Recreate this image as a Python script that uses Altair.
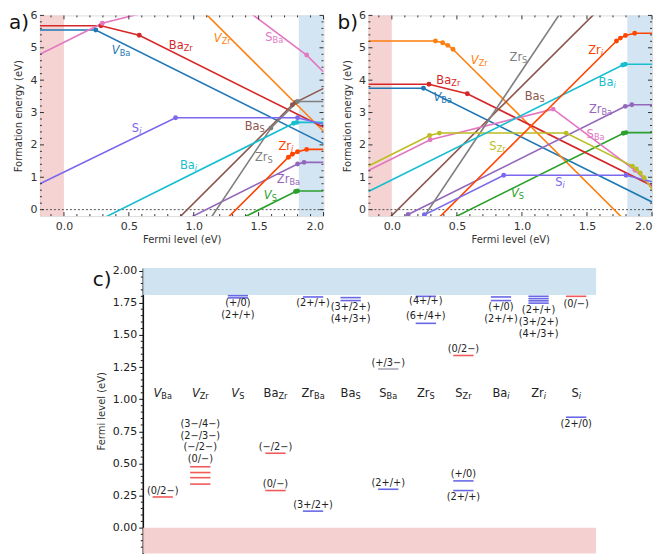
import altair as alt
import pandas as pd

# ---------------- data ----------------
SERIES = ["VBa", "VZr", "VS", "BaZr", "ZrBa", "BaS", "SBa", "ZrS", "SZr", "Bai", "Zri", "Si"]
COLORS = ["#1f77b4", "#ff7f0e", "#2ca02c", "#d62728", "#9467bd", "#8c564b",
          "#e377c2", "#7f7f7f", "#bcbd22", "#17becf", "#ff4500", "#7b68ee"]
# main text, subscript, main italic, subscript italic
PIECES = {
    "VBa": ("V", "Ba", True, False), "VZr": ("V", "Zr", True, False), "VS": ("V", "S", True, False),
    "BaZr": ("Ba", "Zr", False, False), "ZrBa": ("Zr", "Ba", False, False), "BaS": ("Ba", "S", False, False),
    "SBa": ("S", "Ba", False, False), "ZrS": ("Zr", "S", False, False), "SZr": ("S", "Zr", False, False),
    "Bai": ("Ba", "i", False, True), "Zri": ("Zr", "i", False, True), "Si": ("S", "i", False, True),
}

# panel a: vertices (Fermi level, formation energy)
A_LINES = {
    "VBa": ([-0.185, 0.245, 2.0], [5.55, 5.55, 2.04]),
    "VZr": ([1.0, 2.0], [6.42, 2.42]),
    "VS": ([1.3, 1.785, 1.80, 2.0], [-0.41, 0.56, 0.575, 0.575]),
    "BaZr": ([-0.185, 0.285, 0.58, 2.0], [5.68, 5.68, 5.385, 2.545]),
    "ZrBa": ([0.9, 1.80, 1.85, 2.0], [-0.39, 1.41, 1.46, 1.46]),
    "BaS": ([0.8, 1.76, 1.785, 2.0], [-0.6, 3.24, 3.315, 3.745]),
    "SBa": ([-0.185, 0.295, 1.23, 1.87, 2.0], [4.80, 5.76, 6.695, 4.775, 4.255]),
    "ZrS": ([1.1, 1.595, 1.80, 2.0], [-0.45, 2.52, 3.34, 3.34]),
    "Bai": ([0.3, 1.77, 1.795, 2.0], [-0.27, 2.67, 2.695, 2.695]),
    "Zri": ([1.2, 1.73, 1.76, 1.80, 1.87, 2.0], [-0.5, 1.62, 1.71, 1.79, 1.86, 1.86]),
    "Si": ([-0.185, 0.86, 1.80, 2.0], [0.80, 2.84, 2.84, 2.64]),
}
A_LABELS = {
    "VBa": (0.44, 4.91), "BaZr": (0.90, 5.06), "VZr": (1.22, 5.28), "SBa": (1.62, 5.30),
    "Si": (0.56, 2.49), "BaS": (1.47, 2.55), "Zri": (1.71, 1.94), "ZrS": (1.54, 1.60),
    "Bai": (0.96, 1.34), "ZrBa": (1.73, 0.92), "VS": (1.59, 0.41),
}

# panel b
B_LINES = {
    "VBa": ([-0.18, 0.243, 2.0], [3.75, 3.75, 0.236]),
    "VZr": ([-0.18, 0.335, 0.39, 0.43, 0.47, 2.0], [5.21, 5.21, 5.155, 5.075, 4.955, -1.165]),
    "VS": ([0.4, 1.78, 1.80, 2.0], [-0.40, 2.36, 2.38, 2.38]),
    "BaZr": ([-0.18, 0.285, 0.58, 2.0], [3.875, 3.875, 3.58, 0.74]),
    "ZrBa": ([-0.05, 0.125, 1.795, 1.845, 2.0], [-0.675, -0.15, 3.19, 3.24, 3.24]),
    "BaS": ([-0.1, 1.7], [-0.58, 6.62]),
    "SBa": ([-0.18, 0.295, 1.24, 1.87, 2.0], [1.21, 2.16, 3.105, 1.215, 0.695]),
    "ZrS": ([0.2, 1.4], [-0.5, 6.7]),
    "SZr": ([-0.18, 0.29, 0.365, 1.34, 1.85, 1.88, 1.91, 1.94, 2.0],
            [1.35, 2.29, 2.365, 2.365, 1.345, 1.255, 1.135, 0.985, 0.625]),
    "Bai": ([-0.18, 1.775, 1.795, 2.0], [0.56, 4.47, 4.49, 4.49]),
    "Zri": ([0.3, 1.727, 1.757, 1.796, 1.867, 2.0], [-0.498, 5.21, 5.30, 5.378, 5.449, 5.449]),
    "Si": ([0.15, 0.25, 0.86, 1.80, 2.0], [-0.56, -0.16, 1.06, 1.06, 0.86]),
}
B_LABELS = {
    "VZr": (0.672, 4.60), "ZrS": (0.973, 4.68), "Zri": (1.566, 4.89), "BaZr": (0.434, 3.97),
    "BaS": (1.098, 3.49), "Bai": (1.655, 3.92), "VBa": (0.391, 3.44), "ZrBa": (1.604, 3.07),
    "SZr": (0.812, 1.92), "SBa": (1.566, 2.32), "Si": (1.292, 0.82), "VS": (0.966, 0.48),
}

X_TICKS = [0.0, 0.5, 1.0, 1.5, 2.0]
X_MINOR = [-0.1, 0.1, 0.2, 0.3, 0.4, 0.6, 0.7, 0.8, 0.9, 1.1, 1.2, 1.3, 1.4, 1.6, 1.7, 1.8, 1.9]
Y_TICKS = [0, 1, 2, 3, 4, 5, 6]
Y_MINOR = [0.2, 0.4, 0.6, 0.8, 1.2, 1.4, 1.6, 1.8, 2.2, 2.4, 2.6, 2.8, 3.2, 3.4, 3.6, 3.8,
           4.2, 4.4, 4.6, 4.8, 5.2, 5.4, 5.6, 5.8]

VBM = 0.0
CBM = 1.81

# panel c: transition levels (column index, Fermi level, kind)
C_LEVELS = [
    (0, 0.24, "r"),
    (1, 0.34, "r"), (1, 0.39, "r"), (1, 0.43, "r"), (1, 0.475, "r"),
    (2, 1.805, "b"), (2, 1.788, "b"),
    (3, 0.58, "r"), (3, 0.29, "r"),
    (4, 0.13, "b"), (4, 1.795, "b"),
    (5, 1.79, "b"), (5, 1.767, "b"),
    (6, 1.235, "g"), (6, 0.30, "b"),
    (7, 1.80, "b"), (7, 1.59, "b"),
    (8, 1.34, "r"), (8, 0.365, "b"), (8, 0.29, "b"),
    (9, 1.795, "b"), (9, 1.767, "b"),
    (10, 1.80, "b"), (10, 1.782, "b"), (10, 1.765, "b"), (10, 1.747, "b"),
    (11, 1.80, "r"), (11, 0.86, "b"),
]
C_TEXTS = [
    (0, 0.29, "(0/2−)"),
    (1, 0.535, "(0/−)"), (1, 0.625, "(−/2−)"), (1, 0.715, "(2−/3−)"), (1, 0.805, "(3−/4−)"),
    (2, 1.745, "(+/0)"), (2, 1.655, "(2+/+)"),
    (3, 0.63, "(−/2−)"), (3, 0.34, "(0/−)"),
    (4, 0.18, "(3+/2+)"), (4, 1.75, "(2+/+)"),
    (5, 1.715, "(3+/2+)"), (5, 1.625, "(4+/3+)"),
    (6, 1.28, "(+/3−)"), (6, 0.35, "(2+/+)"),
    (7, 1.76, "(4+/+)"), (7, 1.65, "(6+/4+)"),
    (8, 1.39, "(0/2−)"), (8, 0.42, "(+/0)"), (8, 0.24, "(2+/+)"),
    (9, 1.715, "(+/0)"), (9, 1.625, "(2+/+)"),
    (10, 1.695, "(2+/+)"), (10, 1.60, "(3+/2+)"), (10, 1.505, "(4+/3+)"),
    (11, 1.74, "(0/−)"), (11, 0.81, "(2+/0)"),
]
C_KINDS = ["r", "b", "g"]
C_KIND_COLORS = ["#f05a5a", "#6868e6", "#a8a8b4"]
C_YTICKS = [0.0, 0.25, 0.5, 0.75, 1.0, 1.25, 1.5, 1.75, 2.0]
C_YMINOR = [round(0.05 * k, 2) for k in range(-3, 41) if k % 5 != 0]
C_NAME_Y = 1.04

# ---------------- style ----------------
FONT = "DejaVu Sans"
CHAR_W = {"V": 0.684, "B": 0.686, "a": 0.613, "Z": 0.685, "r": 0.411, "S": 0.635, "i": 0.278}
MAIN_SIZE = 11.5
SUB_SIZE = 8.2
AW, AH = 284, 201
BW, BH = 284, 201
CW, CH = 454, 286
XDOM_A = [-0.185, 2.0]
XDOM_B = [-0.18, 2.0]
YDOM = [-0.2, 6.0]
CXDOM = [-0.53, 11.53]
CYDOM = [-0.2, 2.02]
C_SHIFT = 51

cscale = alt.Scale(domain=SERIES, range=COLORS)


def tw(s, size):
    return sum(CHAR_W.get(ch, 0.6) for ch in s) * size


def label_df(centers, ppu):
    rows = []
    for name, (cx, cy) in centers.items():
        m, s, mi, si = PIECES[name]
        join = cx + (tw(m, MAIN_SIZE) - tw(s, SUB_SIZE)) / 2.0 / ppu
        rows.append(dict(series=name, x=join, y=cy, main=m, sub=s, mi=mi, si=si))
    return pd.DataFrame(rows)


def label_layers(df, X, Y, color):
    layers = []
    for it in (True, False):
        d = df[df.mi == it]
        if len(d):
            layers.append(alt.Chart(d).mark_text(
                align="right", baseline="middle", fontSize=MAIN_SIZE, font=FONT,
                fontStyle="italic" if it else "normal").encode(x=X, y=Y, text="main:N", color=color))
        d = df[df.si == it]
        if len(d):
            layers.append(alt.Chart(d).mark_text(
                align="left", baseline="middle", dy=3, fontSize=SUB_SIZE, font=FONT,
                fontStyle="italic" if it else "normal").encode(x=X, y=Y, text="sub:N", color=color))
    return layers


def top_panel(lines, labels, tag, W, H, xdom):
    ppu = W / (xdom[1] - xdom[0])
    X = alt.X("x:Q", scale=alt.Scale(domain=xdom, nice=False, zero=False),
              axis=alt.Axis(values=X_TICKS, format=".1f", title="Fermi level (eV)",
                            ticks=False, domain=False, grid=False, labelPadding=4,
                            labelFontSize=11, titleFontSize=10, titlePadding=3, titleFontWeight="normal",
                            labelColor="#333", titleColor="#333", labelFont=FONT, titleFont=FONT))
    Y = alt.Y("y:Q", scale=alt.Scale(domain=YDOM, nice=False, zero=False),
              axis=alt.Axis(values=Y_TICKS, format="d", title="Formation energy (eV)",
                            ticks=False, domain=False, grid=False, labelPadding=3,
                            labelFontSize=11, titleFontSize=10, titlePadding=6, titleFontWeight="normal",
                            labelColor="#333", titleColor="#333", labelFont=FONT, titleFont=FONT))
    line_rows, dot_rows = [], []
    for name, (xs, ys) in lines.items():
        for i, (xv, yv) in enumerate(zip(xs, ys)):
            line_rows.append(dict(series=name, x=xv, y=yv, order=i))
            if 0 < i < len(xs) - 1:
                dot_rows.append(dict(series=name, x=xv, y=yv))
    ldf = pd.DataFrame(line_rows)
    ddf = pd.DataFrame(dot_rows)
    color = alt.Color("series:N", scale=cscale, legend=None)

    red = alt.Chart(pd.DataFrame({"x": [xdom[0]], "x2": [VBM], "y": [YDOM[0]], "y2": [YDOM[1]]})).mark_rect(
        color="#f2c4c4", opacity=0.75).encode(x=X, x2="x2:Q", y=Y, y2="y2:Q")
    blue = alt.Chart(pd.DataFrame({"x": [CBM], "x2": [xdom[1]], "y": [YDOM[0]], "y2": [YDOM[1]]})).mark_rect(
        color="#c4dcee", opacity=0.75).encode(x=X, x2="x2:Q", y=Y, y2="y2:Q")
    zero = alt.Chart(pd.DataFrame({"y": [0.0]})).mark_rule(
        color="#555", strokeDash=[2, 2], strokeWidth=1).encode(y=Y)
    lns = alt.Chart(ldf).mark_line(clip=True, strokeWidth=1.6).encode(
        x=X, y=Y, color=color, detail="series:N", order="order:Q")
    dts = alt.Chart(ddf).mark_circle(clip=True, size=24, opacity=1).encode(x=X, y=Y, color=color)

    tk = "#333"
    ticks = [
        alt.Chart(pd.DataFrame({"x": X_TICKS})).mark_rule(color=tk).encode(x=X, y=alt.value(H), y2=alt.value(H - 4)),
        alt.Chart(pd.DataFrame({"x": X_TICKS})).mark_rule(color=tk).encode(x=X, y=alt.value(0), y2=alt.value(4)),
        alt.Chart(pd.DataFrame({"x": X_MINOR})).mark_rule(color=tk).encode(x=X, y=alt.value(H), y2=alt.value(H - 2)),
        alt.Chart(pd.DataFrame({"x": X_MINOR})).mark_rule(color=tk).encode(x=X, y=alt.value(0), y2=alt.value(2)),
        alt.Chart(pd.DataFrame({"y": Y_TICKS})).mark_rule(color=tk).encode(y=Y, x=alt.value(0), x2=alt.value(4)),
        alt.Chart(pd.DataFrame({"y": Y_TICKS})).mark_rule(color=tk).encode(y=Y, x=alt.value(W - 4), x2=alt.value(W)),
        alt.Chart(pd.DataFrame({"y": Y_MINOR})).mark_rule(color=tk).encode(y=Y, x=alt.value(0), x2=alt.value(2)),
        alt.Chart(pd.DataFrame({"y": Y_MINOR})).mark_rule(color=tk).encode(y=Y, x=alt.value(W - 2), x2=alt.value(W)),
    ]
    lab = label_layers(label_df(labels, ppu), X, Y, color)
    tagc = alt.Chart(pd.DataFrame({"t": [tag]})).mark_text(
        align="left", baseline="middle", fontSize=20, font=FONT, color="#111").encode(
        text="t:N", x=alt.value(-31), y=alt.value(8))
    return alt.layer(red, blue, zero, lns, dts, *ticks, *lab, tagc).properties(width=W, height=H)


panel_a = top_panel(A_LINES, A_LABELS, "a)", AW, AH, XDOM_A)
panel_b = top_panel(B_LINES, B_LABELS, "b)", BW, BH, XDOM_B)

# ---------------- panel c ----------------
cppu = CW / (CXDOM[1] - CXDOM[0])
CX = alt.X("x:Q", scale=alt.Scale(domain=CXDOM, nice=False, zero=False), axis=None)
CY = alt.Y("y:Q", scale=alt.Scale(domain=CYDOM, nice=False, zero=False),
           axis=alt.Axis(values=C_YTICKS, format=".2f", title="Fermi level (eV)", grid=False,
                         domain=True, domainColor="#111", domainWidth=1.6, ticks=True, tickSize=4,
                         tickColor="#111", tickWidth=1, labelFontSize=11, titleFontSize=10,
                         titleFontWeight="normal",
                         labelPadding=2, titlePadding=6, labelColor="#222", titleColor="#333",
                         labelFont=FONT, titleFont=FONT))
HALF = 0.27
lev = pd.DataFrame([dict(x=c - HALF, x2=c + HALF, y=y, kind=k) for c, y, k in C_LEVELS])
txt = pd.DataFrame([dict(x=c, y=y, t=t) for c, y, t in C_TEXTS])
names = {SERIES[i]: (i, C_NAME_Y) for i in range(len(SERIES))}

c_red = alt.Chart(pd.DataFrame({"y": [CYDOM[0]], "y2": [VBM]})).mark_rect(
    color="#f2c4c4", opacity=0.8).encode(y=CY, y2="y2:Q", x=alt.value(0), x2=alt.value(CW))
c_blue = alt.Chart(pd.DataFrame({"y": [CBM], "y2": [CYDOM[1]]})).mark_rect(
    color="#c4dcee", opacity=0.8).encode(y=CY, y2="y2:Q", x=alt.value(0), x2=alt.value(CW))
c_lev = alt.Chart(lev).mark_rule(strokeWidth=1.6).encode(
    x=CX, x2="x2:Q", y=CY,
    color=alt.Color("kind:N", scale=alt.Scale(domain=C_KINDS, range=C_KIND_COLORS), legend=None))
c_txt = alt.Chart(txt).mark_text(fontSize=9.8, font=FONT, color="#222", baseline="middle").encode(
    x=CX, y=CY, text="t:N")
c_minor = alt.Chart(pd.DataFrame({"y": C_YMINOR})).mark_rule(color="#111").encode(
    y=CY, x=alt.value(0), x2=alt.value(-2))
c_names = label_layers(label_df(names, cppu), CX, CY, alt.value("#222"))
c_tag = alt.Chart(pd.DataFrame({"t": ["c)"]})).mark_text(
    align="left", baseline="middle", fontSize=20, font=FONT, color="#111").encode(
    text="t:N", x=alt.value(-50), y=alt.value(12))
panel_c = alt.layer(c_red, c_blue, c_minor, c_lev, c_txt, *c_names, c_tag).properties(
    width=CW, height=CH, view=alt.ViewConfig(stroke="transparent"))

spacer = alt.Chart(pd.DataFrame({"t": [0]})).mark_point(opacity=0, size=1).encode(
    x=alt.value(0), y=alt.value(0)).properties(
    width=C_SHIFT, height=10, view=alt.ViewConfig(stroke="transparent"))

top = alt.hconcat(panel_a, panel_b, spacing=12)
bottom = alt.hconcat(spacer, panel_c, spacing=0).resolve_scale(color="independent")
chart = alt.vconcat(top, bottom, spacing=19).resolve_scale(
    x="independent", y="independent", color="independent").properties(padding=0).configure_view(
    stroke="#333", strokeWidth=1).configure(font=FONT)

chart.save("out.html", embed_options={"renderer": "svg", "actions": False})
